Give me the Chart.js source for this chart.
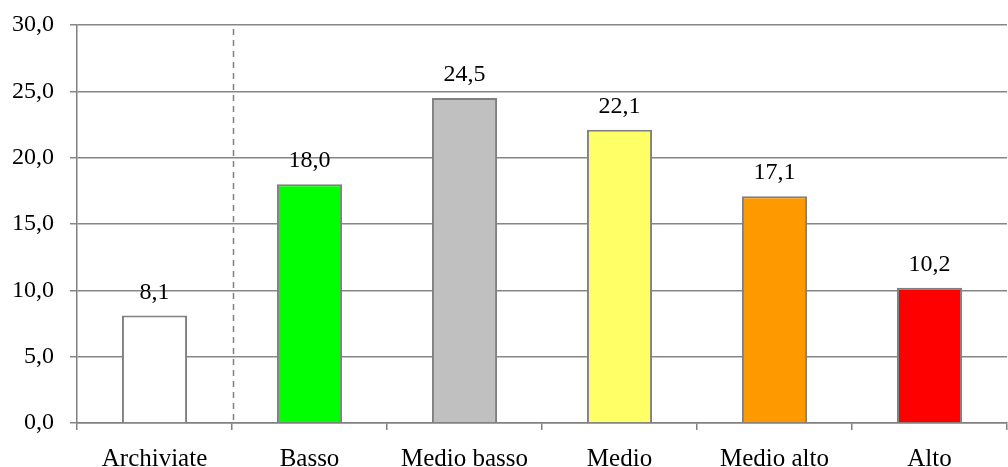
<!DOCTYPE html>
<html>
<head>
<meta charset="utf-8">
<script src="https://cdn.jsdelivr.net/npm/chart.js@4/dist/chart.umd.min.js"></script>
<style>
  html, body { margin: 0; padding: 0; background: #fff; }
  #wrap { width: 1008px; height: 467px; }
</style>
</head>
<body>
<div id="wrap"><canvas id="c"></canvas></div>
<script>
const categories = ['Archiviate', 'Basso', 'Medio basso', 'Medio', 'Medio alto', 'Alto'];
const values = [8.1, 18.0, 24.5, 22.1, 17.1, 10.2];
const barColors = ['#ffffff', '#00ff00', '#c0c0c0', '#ffff66', '#ff9900', '#ff0000'];
const yTicks = [0, 5, 10, 15, 20, 25, 30];

const fmt = v => v.toFixed(1).replace('.', ',');
const FONT = "'Liberation Serif', 'DejaVu Serif', serif";

// valori sopra le barre
const valueLabels = {
    id: 'valueLabels',
    afterDatasetsDraw(chart) {
        const ctx = chart.ctx;
        const meta = chart.getDatasetMeta(0);
        ctx.save();
        ctx.font = "24px " + FONT;
        ctx.fillStyle = '#000';
        ctx.textAlign = 'center';
        ctx.textBaseline = 'middle';
        meta.data.forEach((bar, i) => {
            ctx.fillText(fmt(values[i]), bar.x, bar.y - 23);
        });
        ctx.restore();
    }
};

// linea tratteggiata tra Archiviate e Basso
const divider = {
    id: 'divider',
    beforeDatasetsDraw(chart) {
        const x = chart.scales.x;
        const area = chart.chartArea;
        const px = Math.round((x.getPixelForValue(0) + x.getPixelForValue(1)) / 2) + 1.5;
        const ctx = chart.ctx;
        ctx.save();
        ctx.strokeStyle = '#808080';
        ctx.lineWidth = 1.5;
        ctx.setLineDash([6, 5]);
        ctx.beginPath();
        ctx.moveTo(px, area.top + 4);
        ctx.lineTo(px, area.bottom);
        ctx.stroke();
        ctx.restore();
    }
};

new Chart(document.getElementById('c'), {
    type: 'bar',
    data: {
        labels: categories,
        datasets: [{
            data: values,
            backgroundColor: barColors,
            borderColor: '#808080',
            borderWidth: 2,
            borderSkipped: 'bottom',
            barPercentage: 0.42,
            categoryPercentage: 1
        }]
    },
    options: {
        responsive: true,
        maintainAspectRatio: false,
        animation: false,
        layout: { padding: { top: 25, right: 1, left: 0, bottom: 0 } },
        plugins: {
            legend: { display: false },
            tooltip: { enabled: false }
        },
        scales: {
            x: {
                offset: true,
                grid: {
                    offset: true,
                    drawOnChartArea: false,
                    drawTicks: true,
                    tickLength: 7,
                    color: '#808080',
                    lineWidth: 1.5
                },
                border: { color: '#808080', width: 1.5 },
                ticks: {
                    color: '#000',
                    font: { family: FONT, size: 25 },
                    padding: 14,
                    maxRotation: 0,
                    autoSkip: false
                },
                afterFit(s) { s.height = 44; }
            },
            y: {
                min: 0,
                max: 30,
                afterBuildTicks(s) { s.ticks = yTicks.map(v => ({ value: v })); },
                grid: {
                    color: '#868686',
                    lineWidth: 1.5,
                    tickLength: 7
                },
                border: { color: '#808080', width: 1.5 },
                ticks: {
                    color: '#000',
                    font: { family: FONT, size: 24 },
                    padding: 16,
                    callback: v => fmt(v)
                },
                afterFit(s) { s.width = 77; s.paddingTop = 0; s.paddingBottom = 0; }
            }
        }
    },
    plugins: [divider, valueLabels]
});
</script>
</body>
</html>
